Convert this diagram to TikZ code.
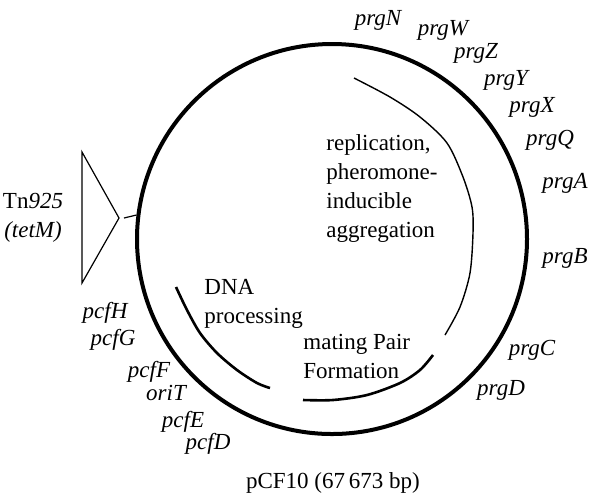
\documentclass[tikz,border=0pt]{standalone}
\usepackage{fontspec}
\setmainfont{Liberation Serif}
\newcommand{\mapsize}{\fontsize{11.5}{14.5}\selectfont}
\begin{document}
\begin{tikzpicture}[x=0.5pt, y=-0.5pt,
    plasmid/.style={circle, draw, line width=2pt, minimum size=195pt, inner sep=0pt},
    gene/.style={font=\mapsize\itshape, inner sep=0pt},
    region/.style={font=\mapsize, align=left, anchor=north west, inner sep=0pt},
    thin arc/.style={line width=0.7pt},
    thick arc/.style={line width=1.3pt}]
  \useasboundingbox (0,0) rectangle (593,495);

  \node[plasmid] (plasmid) at (332,239) {};

  \coordinate (top) at (82,152);
  \coordinate (bottom) at (82,283);
  \coordinate (apex) at (119,218);
  \draw[line width=0.6pt] (top) -- (apex) -- (bottom) -- cycle;
  \draw[line width=0.6pt] ([xshift=2.5pt]apex) -- (plasmid.173.8);
  \node[font=\mapsize, inner sep=0pt, align=center] (tn) at (33,218) {Tn\textit{925}\\\textit{(tetM)}};

  \node[gene] (prgN) at (378,20) {prgN};
  \node[gene] (prgW) at (443,30) {prgW};
  \node[gene] (prgZ) at (476,53) {prgZ};
  \node[gene] (prgY) at (506,80) {prgY};
  \node[gene] (prgX) at (532,107) {prgX};
  \node[gene] (prgQ) at (550,140) {prgQ};
  \node[gene] (prgA) at (565,183) {prgA};
  \node[gene] (prgB) at (565,258) {prgB};
  \node[gene] (prgC) at (532,350) {prgC};
  \node[gene] (prgD) at (501,390) {prgD};
  \node[gene] (pcfD) at (208,444) {pcfD};
  \node[gene] (pcfE) at (183,422) {pcfE};
  \node[gene] (oriT) at (166,393) {oriT};
  \node[gene] (pcfF) at (149,372) {pcfF};
  \node[gene] (pcfG) at (113,340) {pcfG};
  \node[gene] (pcfH) at (105,313) {pcfH};

  \draw[thin arc] plot[smooth] coordinates {(354,78) (390,97) (420,117) (447,143) (463,177) (472,207) (473,233) (470,273) (460,307) (445,335)};
  \draw[thick arc] plot[smooth] coordinates {(176,287) (187,310) (200,333) (217,353) (237,370) (257,383) (270,388)};
  \draw[thick arc] plot[smooth] coordinates {(303,400) (333,400) (367,395) (400,383) (420,370) (433,355)};

  \node[region] (replication) at (326,134) {replication,\\pheromone-\\inducible\\aggregation};
  \node[region] (dna) at (204,279) {DNA\\processing};
  \node[region] (mating) at (303,334) {mating Pair\\Formation};

  \node[font=\mapsize, inner sep=0pt] (name) at (333,483) {pCF10 (67\,673 bp)};
\end{tikzpicture}
\end{document}
